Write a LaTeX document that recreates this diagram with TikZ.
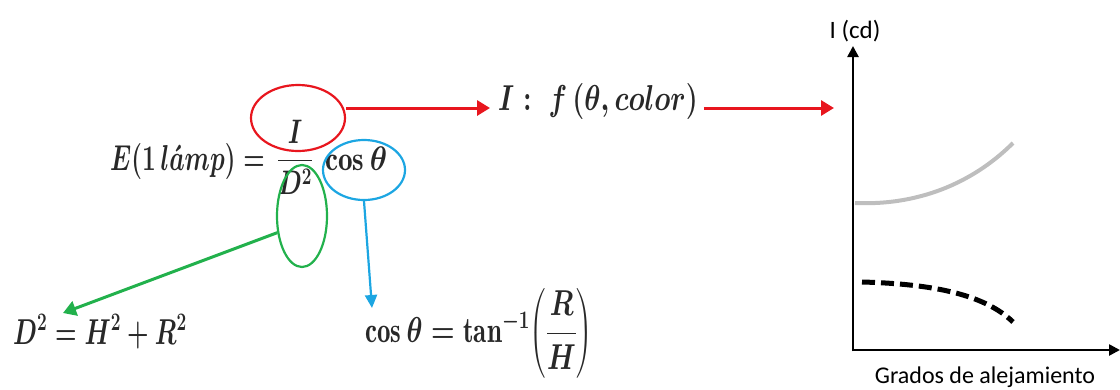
\RequirePackage{fix-cm}
\documentclass[tikz,border=0pt]{standalone}
\usepackage{amsmath}
\usepackage{graphicx}
\usepackage{fontspec}
\newfontfamily\chartfont{Carlito}
\usetikzlibrary{arrows.meta,shapes.geometric,calc}
\definecolor{eqgray}{RGB}{40,40,40}
\definecolor{myred}{RGB}{232,22,30}
\definecolor{mygreen}{RGB}{34,177,76}
\definecolor{myblue}{RGB}{28,166,226}
\definecolor{curvegray}{RGB}{190,190,190}
\newcommand{\eqbox}[2]{\scalebox{#1}[1]{\boldmath$#2$}}
\tikzset{
  eqtext/.style={text=eqgray, inner sep=0pt, font=\fontsize{36}{42}\selectfont},
  eqsmall/.style={text=eqgray, inner sep=0pt, font=\fontsize{36}{42}\selectfont},
  ring/.style={ellipse, draw, line width=2.2pt, inner sep=0pt},
  redarrow/.style={draw=myred, line width=3pt, -{Triangle[length=13pt,width=15pt]}, myred},
  greenarrow/.style={draw=mygreen, line width=3pt, -{Triangle[length=13pt,width=15pt]}, mygreen},
  bluearrow/.style={draw=myblue, line width=2.2pt, -{Triangle[length=13pt,width=12pt]}, myblue},
  axisline/.style={line width=2.5pt, black, -{Triangle[length=11pt,width=11pt]}},
  chartlabel/.style={font=\chartfont\fontsize{24}{28}\selectfont, text=black, inner sep=0pt}
}
\begin{document}
\begin{tikzpicture}[x=1pt,y=-1pt]
\useasboundingbox (0,0) rectangle (1120,389);
% main equation
\node[eqtext, anchor=base west] (Eq) at (110,170) {\eqbox{0.68}{E(1\,l\acute{a}mp)=}};
\node[eqtext, font=\fontsize{34}{40}\selectfont] (frac) at (295,157) {\eqbox{0.72}{\dfrac{I}{D^{2}}}};
\node[eqtext, font=\fontsize{34}{40}\selectfont, anchor=base west] (cos) at (325,170) {\eqbox{0.86}{\cos\theta}};
% ellipses
\node[ring, draw=myred, minimum width=94pt, minimum height=66pt] (rE) at (298,118) {};
\node[ring, draw=myblue, minimum width=82pt, minimum height=60pt] (bE) at (364,170) {};
\node[ring, draw=mygreen, minimum width=50pt, minimum height=102pt] (gE) at (302,216) {};
% I : f(theta,color)
\node[eqsmall] (fI) at (598,101) {\eqbox{0.76}{I:\ f\,(\theta,color)}};
% D^2 equation
\node[eqsmall, anchor=base west] (dEq) at (13,344) {\eqbox{0.685}{D^{2}=H^{2}+R^{2}}};
% cos theta equation
\node[eqsmall, anchor=base west] (cEq) at (365,342) {\eqbox{0.75}{\cos\theta=\tan^{-1}\!\left(\dfrac{R}{H}\right)}};
% connectors
\coordinate (rtip) at (834,108);
\coordinate (gtip) at (63,313);
\draw[redarrow] (rE.east |- 0,108) -- ([xshift=-8pt]fI.west |- 0,108);
\draw[redarrow] ([xshift=6pt]fI.east |- 0,108) -- (rtip);
\draw[greenarrow] (gE.214) -- (gtip);
\draw[bluearrow] (bE.south) -- (372,308);
% chart
\coordinate (O) at (853,350);
\coordinate (ytop) at (853,46);
\coordinate (xend) at (1120,350);
\draw[axisline] ($(O)+(0,1.25)$) -- (ytop);
\draw[axisline] ($(O)+(-1.25,0)$) -- (xend);
\node[chartlabel, font=\chartfont\fontsize{25}{28}\selectfont] (ylab) at (855,31) {I (cd)};
\node[chartlabel] (xlab) at (985,377) {Grados de alejamiento};
\draw[curvegray, line width=4pt] (855,203) .. controls (925,206) and (978,178) .. (1013,143);
\draw[black, line width=5pt, dash pattern=on 13pt off 6pt] (862,282) .. controls (935,284) and (985,295) .. (1013,322);
\end{tikzpicture}
\end{document}
